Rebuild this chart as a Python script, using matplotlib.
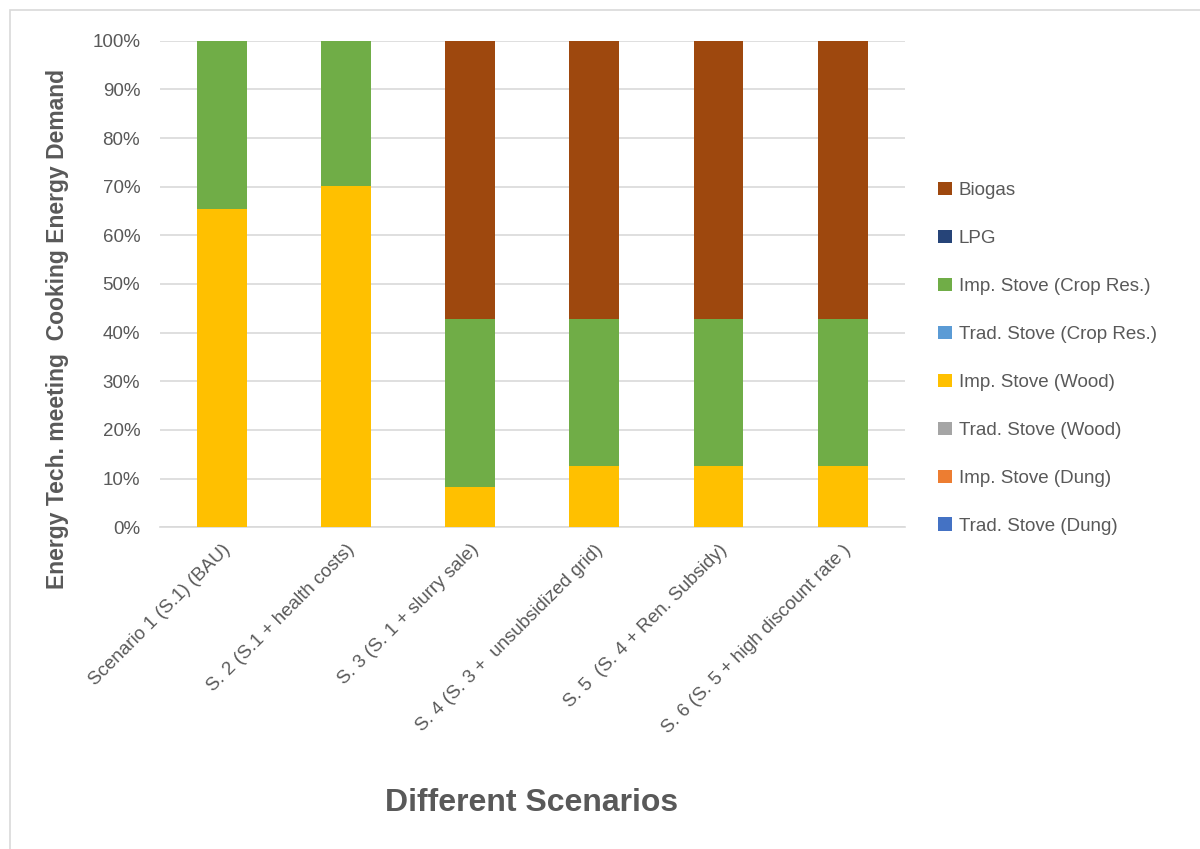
#!/usr/bin/env python3
# -*- coding: utf-8 -*-

"""Share of cooking energy demand met by each technology, per scenario."""

import matplotlib.pyplot as plt
import numpy as np
from matplotlib.patches import Rectangle

PLOT_FILE = "out.png"
TEXT_GREY = "#595959"

scenarios = [
    "Scenario 1 (S.1) (BAU)",
    "S. 2 (S.1 + health costs)",
    "S. 3 (S. 1 + slurry sale)",
    "S. 4 (S. 3 +  unsubsidized grid)",
    "S. 5  (S. 4 + Ren. Subsidy)",
    "S. 6 (S. 5 + high discount rate )",
]

# technologies, bottom of the stack first
technologies = [
    "Trad. Stove (Dung)",
    "Imp. Stove (Dung)",
    "Trad. Stove (Wood)",
    "Imp. Stove (Wood)",
    "Trad. Stove (Crop Res.)",
    "Imp. Stove (Crop Res.)",
    "LPG",
    "Biogas",
]
colors = ["#4472C4", "#ED7D31", "#A5A5A5", "#FFC000",
          "#5B9BD5", "#70AD47", "#264478", "#9E480E"]

# shares in percent
trad_dung = [0, 0, 0, 0, 0, 0]
imp_dung = [0, 0, 0, 0, 0, 0]
trad_wood = [0, 0, 0, 0, 0, 0]
imp_wood = [65.4, 70.2, 8.3, 12.5, 12.5, 12.5]
trad_crop = [0, 0, 0, 0, 0, 0]
imp_crop = [34.6, 29.8, 34.5, 30.3, 30.3, 30.3]
lpg = [0, 0, 0, 0, 0, 0]
biogas = [0, 0, 57.2, 57.2, 57.2, 57.2]


def main():
    """Main function."""
    plt.rcParams["font.family"] = ["Liberation Sans", "DejaVu Sans"]
    series = [trad_dung, imp_dung, trad_wood, imp_wood,
              trad_crop, imp_crop, lpg, biogas]

    fig = plt.figure(figsize=(12, 8.49), dpi=100)
    ax = fig.add_axes([0.133, 0.379, 0.621, 0.573])
    x = np.arange(len(scenarios))
    bottom = np.zeros(len(scenarios))
    for name, vals, col in zip(technologies, series, colors):
        vals = np.array(vals) / 100.0
        ax.bar(x, vals, 0.4, bottom=bottom, color=col, label=name, zorder=3)
        bottom += vals

    ax.set_xlim(-0.5, len(scenarios) - 0.5)
    ax.set_ylim(0, 1)
    ax.set_yticks(np.arange(0, 1.01, 0.1))
    ax.set_yticklabels([f"{int(round(v * 100))}%" for v in np.arange(0, 1.01, 0.1)])
    ax.set_xticks(x)
    ax.set_xticklabels(scenarios, rotation=45, ha="right",
                       rotation_mode="anchor")
    ax.tick_params(axis="both", length=0, labelsize=13.5, colors=TEXT_GREY)
    ax.tick_params(axis="y", pad=14)
    ax.tick_params(axis="x", pad=10)
    ax.grid(axis="y", color="#D9D9D9", linewidth=1.2, zorder=0)
    for side in ["top", "right", "left"]:
        ax.spines[side].set_visible(False)
    ax.spines["bottom"].set_color("#D9D9D9")
    ax.spines["bottom"].set_linewidth(1.2)

    fig.text(0.443, 0.054, "Different Scenarios", fontsize=23,
             fontweight="bold", color=TEXT_GREY, ha="center", va="center")
    fig.text(0.048, 0.612, "Energy Tech. meeting  Cooking Energy Demand",
             fontsize=16.5, fontweight="bold", color=TEXT_GREY,
             rotation=90, ha="center", va="center")

    handles, labels = ax.get_legend_handles_labels()
    leg = fig.legend(handles[::-1], labels[::-1], loc="upper left",
                     bbox_to_anchor=(0.768, 0.806), frameon=False,
                     fontsize=13.5, labelspacing=1.64, handlelength=0.72,
                     handleheight=0.72, handletextpad=0.35)
    for text in leg.get_texts():
        text.set_color(TEXT_GREY)

    # thin frame around the whole chart area
    fig.patches.append(Rectangle((0.008, -0.01), 1.0, 0.998,
                                 transform=fig.transFigure, fill=False,
                                 edgecolor="#D9D9D9", linewidth=1.2))
    fig.savefig(PLOT_FILE, dpi=100)


if __name__ == "__main__":
    main()
